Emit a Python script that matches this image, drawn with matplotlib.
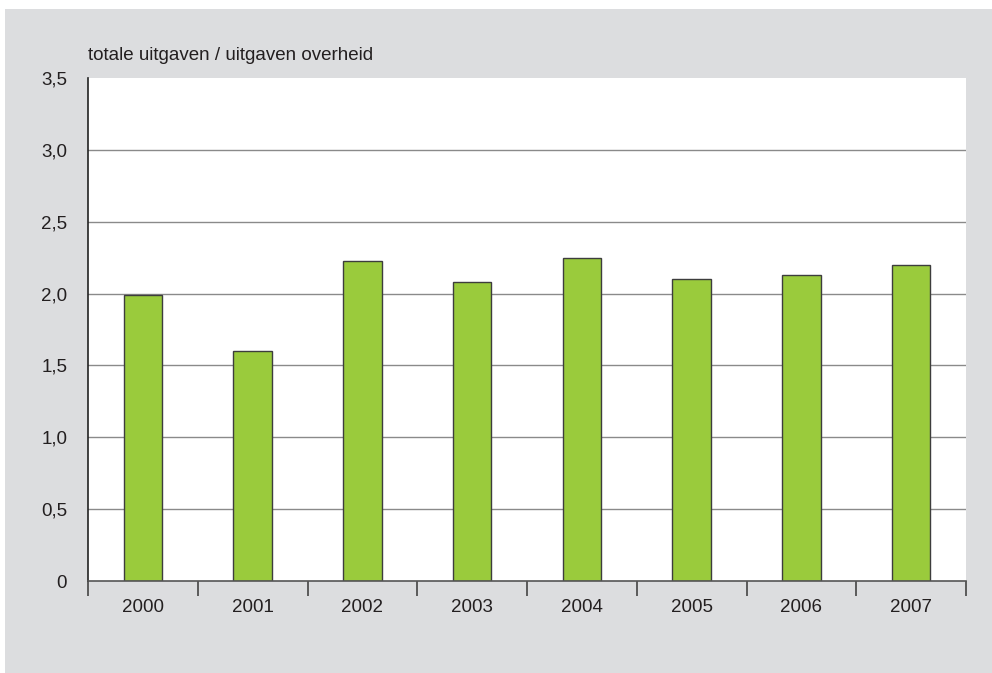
import matplotlib
matplotlib.use("Agg")
import matplotlib.pyplot as plt
from matplotlib.patches import Rectangle
from matplotlib.ticker import FixedLocator, FuncFormatter

# ── Data ──────────────────────────────────────────────────────────────────────
years = ["2000", "2001", "2002", "2003", "2004", "2005", "2006", "2007"]
ratio = [1.99, 1.60, 2.23, 2.08, 2.25, 2.10, 2.13, 2.20]
y_ticks = [0, 0.5, 1.0, 1.5, 2.0, 2.5, 3.0, 3.5]

TEXT = "#231f20"
FS = 13.5
plt.rcParams["font.family"] = ["Liberation Sans", "DejaVu Sans"]

fig = plt.figure(figsize=(9.92, 6.73), dpi=100)
fig.patch.set_facecolor("white")

# grey panel behind the chart
fig.patches.append(Rectangle((5 / 992, 0), 1 - 5 / 992, 1 - 9 / 673,
                             transform=fig.transFigure, facecolor="#dcdddf",
                             edgecolor="none", zorder=-10))

ax = fig.add_axes([88 / 992, 1 - 581 / 673, 878 / 992, 503 / 673])
ax.set_facecolor("white")

x = range(len(years))
ax.bar(x, ratio, width=0.35, color="#9acb3c", edgecolor="#3d3d3d",
       linewidth=1.0, zorder=3)

ax.set_xlim(-0.5, len(years) - 0.5)
ax.set_ylim(0, 3.5)

# horizontal gridlines (none at the top)
for v in y_ticks[1:-1]:
    ax.axhline(v, color="#8a8a8a", linewidth=1.0, zorder=1)

ax.set_yticks(y_ticks)
ax.yaxis.set_major_formatter(FuncFormatter(
    lambda v, _: "0" if v == 0 else f"{v:.1f}".replace(".", ",")))
ax.tick_params(axis="y", length=0, pad=15, labelsize=FS, labelcolor=TEXT)

ax.set_xticks(list(x))
ax.set_xticklabels(years)
ax.tick_params(axis="x", which="major", length=0, pad=13, labelsize=FS,
               labelcolor=TEXT)
ax.xaxis.set_minor_locator(FixedLocator([i - 0.5 for i in range(len(years) + 1)]))
ax.tick_params(axis="x", which="minor", length=11, width=1.2,
               color="#444444", direction="out")

for side in ["top", "right"]:
    ax.spines[side].set_visible(False)
ax.spines["left"].set_color("#222222")
ax.spines["left"].set_linewidth(1.2)
ax.spines["bottom"].set_color("#555555")
ax.spines["bottom"].set_linewidth(1.2)
ax.spines["bottom"].set_zorder(4)

fig.text(88 / 992, 1 - 55 / 673, "totale uitgaven / uitgaven overheid",
         fontsize=FS, color=TEXT, ha="left", va="center")

fig.savefig("out.png", dpi=100)
plt.close(fig)
